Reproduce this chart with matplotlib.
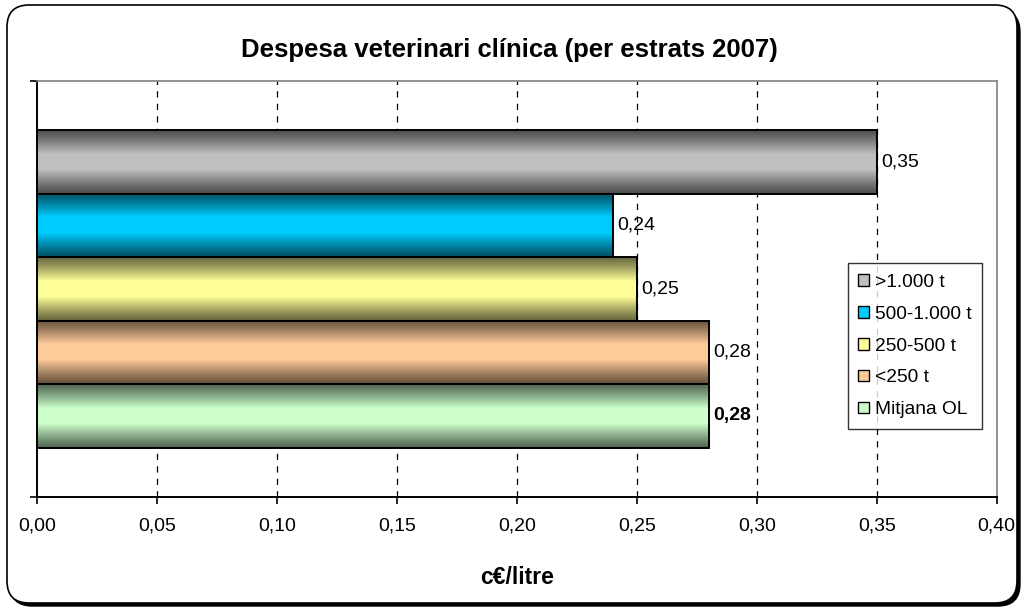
import numpy as np
import matplotlib.pyplot as plt
from matplotlib.colors import to_rgb
from matplotlib.patches import FancyBboxPatch, Patch
from matplotlib.transforms import IdentityTransform

# ---------------------------------------
# Data
# ---------------------------------------
series = [">1.000 t", "500-1.000 t", "250-500 t", "<250 t", "Mitjana OL"]
values = [0.35, 0.24, 0.25, 0.28, 0.28]
labels = ["0,35", "0,24", "0,25", "0,28", "0,28"]
x_ticks = [0.00, 0.05, 0.10, 0.15, 0.20, 0.25, 0.30, 0.35, 0.40]
x_ticklabels = ["0,00", "0,05", "0,10", "0,15", "0,20", "0,25", "0,30", "0,35", "0,40"]

# centre colour of each bar gradient
centre = ["#c0c0c0", "#00ccff", "#ffff99", "#ffcc99", "#ccffcc"]
shade = 0.4

plt.rcParams["font.family"] = ["Liberation Sans", "DejaVu Sans"]

fig = plt.figure(figsize=(10.24, 6.08), dpi=100)

# ---------------------------------------
# Outer rounded frame with shadow
# ---------------------------------------
shadow = FancyBboxPatch((10, 2), 1010, 596, boxstyle="round,pad=0,rounding_size=22",
                        transform=IdentityTransform(), facecolor="black", edgecolor="black",
                        zorder=-2)
frame = FancyBboxPatch((7, 5), 1010, 598, boxstyle="round,pad=0,rounding_size=22",
                       transform=IdentityTransform(), facecolor="white", edgecolor="black",
                       linewidth=1.2, zorder=-1)
fig.add_artist(shadow)
fig.add_artist(frame)

ax = fig.add_axes([36.7 / 1024, 1 - 496.7 / 608, 960 / 1024, 415.7 / 608])
ax.set_facecolor("none")

# bar positions: first series at top
ypos = np.arange(len(values))[::-1]
bars = ax.barh(ypos, values, height=1.0, facecolor="none", edgecolor="black",
               linewidth=1.4, zorder=4)

# vertical gradient (dark edges, light middle) clipped to every bar
t = np.linspace(0, 1, 128)
ramp = np.clip(np.minimum(t, 1 - t) / 0.38, 0, 1)
prof = ramp ** 1.1
for b, c, v, y in zip(bars, centre, values, ypos):
    rgb = np.array(to_rgb(c))
    edge = rgb * shade
    col = edge[None, :] + (rgb - edge)[None, :] * prof[:, None]
    img = np.repeat(col[:, None, :], 4, axis=1)
    im = ax.imshow(img, extent=(0, v, y - 0.5, y + 0.5), aspect="auto",
                   zorder=3, interpolation="nearest")
    im.set_clip_path(b)

# value labels
for i, (v, y, lab) in enumerate(zip(values, ypos, labels)):
    ax.text(v + 0.002, y, lab, va="center", ha="left", fontsize=14,
            fontweight="bold" if i == len(values) - 1 else "normal", zorder=5)

ax.set_xlim(0, 0.40)
ax.set_ylim(-1.27, 5.27)
ax.set_xticks(x_ticks)
ax.set_xticklabels(x_ticklabels, fontsize=14)
ax.set_yticks([-1.27, 5.27])
ax.set_yticklabels([])
ax.tick_params(axis="both", direction="out", length=5, width=1.2, color="black", pad=10)

for xv in x_ticks[1:-1]:
    ax.axvline(xv, color="black", linestyle=(0, (5, 5)), linewidth=0.9, zorder=1)

ax.spines["left"].set_linewidth(1.4)
ax.spines["bottom"].set_linewidth(1.4)
ax.spines["top"].set_color("#808080")
ax.spines["right"].set_color("#808080")
ax.spines["top"].set_linewidth(1.2)
ax.spines["right"].set_linewidth(1.2)

# legend
handles = [Patch(facecolor=c, edgecolor="black", linewidth=1.0) for c in centre]
leg = ax.legend(handles, series, loc="upper left", bbox_to_anchor=(0.845, 0.562),
                fontsize=13.8, frameon=True, fancybox=False, edgecolor="black",
                handlelength=0.55, handleheight=0.55, handletextpad=0.3,
                labelspacing=0.78, borderpad=0.55, borderaxespad=0)
leg.get_frame().set_linewidth(1.0)
leg.set_zorder(6)

fig.text(509 / 1024, 1 - 50 / 608, "Despesa veterinari clínica (per estrats 2007)",
         ha="center", va="center", fontsize=18.5, fontweight="bold")
fig.text(517 / 1024, 1 - 578 / 608, "c€/litre", ha="center", va="center",
         fontsize=16.5, fontweight="bold")

fig.savefig("out.png", dpi=100)
